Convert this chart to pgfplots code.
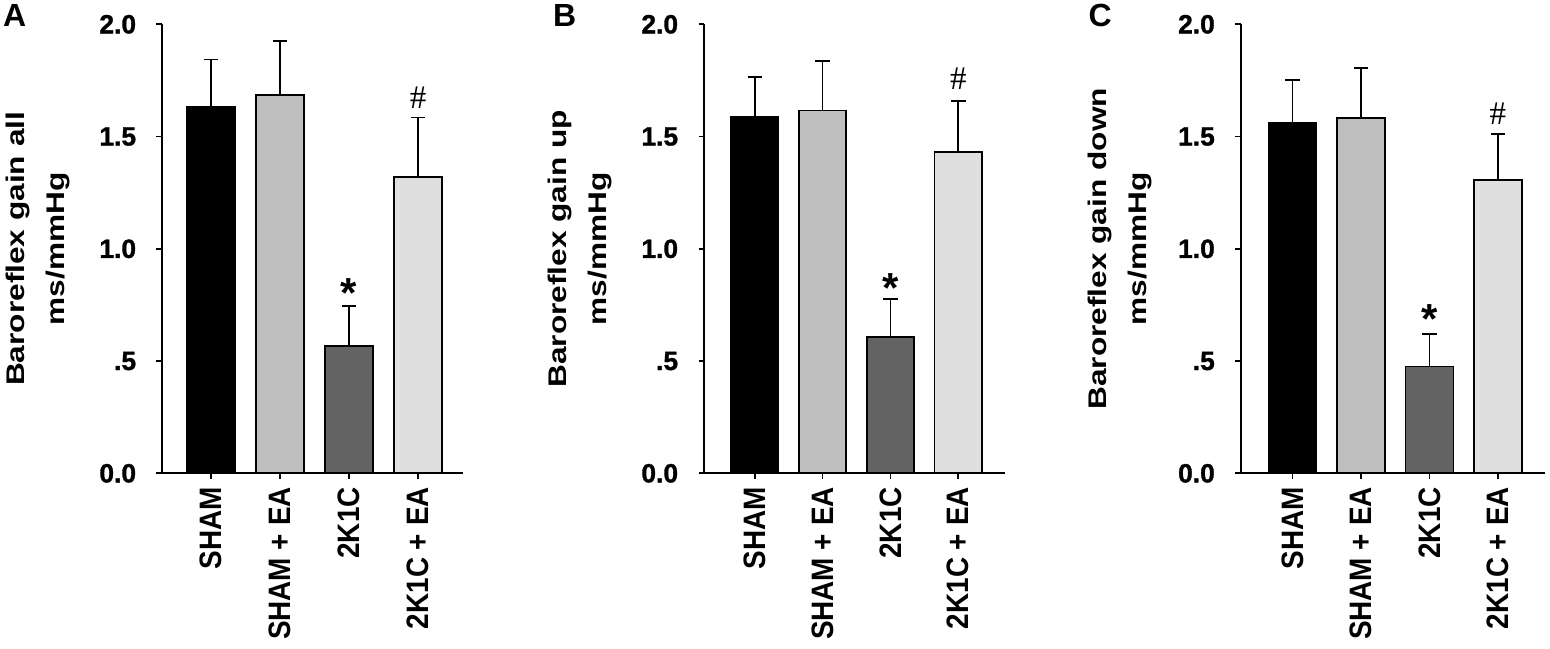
\documentclass[border=0pt]{standalone}
\usepackage{pgfplots}
\pgfplotsset{compat=1.18}
\usepackage{fontspec}
\setmainfont{Liberation Sans}
\newfontfamily\ylabfont{Liberation Sans}[FakeStretch=1.24]
\newfontfamily\catfont{Liberation Sans}[FakeStretch=0.9]
\newfontfamily\tickfont{Liberation Sans}[BoldFeatures={FakeBold=1.2}]
\newfontfamily\hashfont{Liberation Serif}
\definecolor{gA}{gray}{0.0}
\definecolor{gB}{gray}{0.75}
\definecolor{gC}{gray}{0.39}
\definecolor{gD}{gray}{0.875}
\pgfplotsset{
  panel/.style={
    scale only axis, width=150.5pt, height=224.5pt,
    ymin=0, ymax=2,
    ytick={0,0.5,1,1.5,2}, yticklabels={0.0,.5,1.0,1.5,2.0},
    xtick={0,1,2,3}, xticklabels={SHAM,SHAM + EA,2K1C,2K1C + EA},
    axis x line*=bottom, axis y line*=left,
    tick align=outside, major tick length=2.75pt,
    tick style={black, line width=0.9pt},
    axis line style={line width=0.9pt},
    /pgf/number format/assume math mode=true,
    yticklabel style={font=\tickfont\fontsize{13.2}{15}\selectfont\bfseries, anchor=east, inner sep=0pt},
    yticklabel shift=10pt,
    xticklabel style={font=\catfont\fontsize{15.5}{17}\selectfont\bfseries, rotate=90, anchor=east, inner sep=0pt},
    xticklabel shift=4pt,
    ylabel style={font=\ylabfont\fontsize{12.75}{20}\selectfont\bfseries, align=center, anchor=center},
    clip=false,
  },
  bb/.style={ybar, bar width=0.7, bar shift=0pt, draw=black, line width=0.9pt, fill=#1,
    error bars/.cd, y dir=plus, y explicit, error mark=|,
    error bar style={line width=0.9pt, black, solid},
    error mark options={line width=0.9pt, mark size=3.6pt, black}},
}
\tikzset{
  sigstar/.style={anchor=base, inner sep=0pt, font=\fontsize{21}{21}\selectfont\bfseries},
  sighash/.style={anchor=south, inner sep=0pt, font=\hashfont\fontsize{16.5}{16.5}\selectfont},
  panelletter/.style={anchor=north west, inner sep=0pt, font=\fontsize{16}{16}\selectfont\bfseries},
}
\begin{document}
\begin{tikzpicture}
\useasboundingbox (0,0) rectangle (775pt,324pt);
% ---------------- A
\begin{axis}[panel, at={(81pt,87.35pt)}, anchor=south west,
  xmin=-0.709, xmax=3.651,
  ylabel={Baroreflex gain all\\ms/mmHg},
  ylabel style={at={(axis description cs:-0.411,0.5)}}]
\addplot[bb=gA] coordinates {(0,1.631) +- (0,0.212)};
\addplot[bb=gB] coordinates {(1,1.684) +- (0,0.241)};
\addplot[bb=gC] coordinates {(2,0.567) +- (0,0.178)};
\addplot[bb=gD] coordinates {(3,1.321) +- (0,0.264)};
\node[sigstar, yshift=-0.5pt] at (axis cs:2,0.745) {*};
\node[sighash, yshift=4.5pt] at (axis cs:3,1.585) {\#};
\node[panelletter] at (axis description cs:-0.529,1.045) {A};
\end{axis}
% ---------------- B
\begin{axis}[panel, at={(352pt,87.35pt)}, anchor=south west,
  xmin=-0.747, xmax=3.688,
  ylabel={Baroreflex gain up\\ms/mmHg},
  ylabel style={at={(axis description cs:-0.412,0.5)}}]
\addplot[bb=gA] coordinates {(0,1.588) +- (0,0.177)};
\addplot[bb=gB] coordinates {(1,1.616) +- (0,0.221)};
\addplot[bb=gC] coordinates {(2,0.607) +- (0,0.171)};
\addplot[bb=gD] coordinates {(3,1.431) +- (0,0.229)};
\node[sigstar, yshift=-2pt] at (axis cs:2,0.778) {*};
\node[sighash, yshift=5.5pt] at (axis cs:3,1.660) {\#};
\node[panelletter] at (axis description cs:-0.503,1.045) {B};
\end{axis}
% ---------------- C
\begin{axis}[panel, at={(620.35pt,87.35pt)}, anchor=south west, width=152pt,
  xmin=-0.756, xmax=3.683,
  ylabel={Baroreflex gain down\\ms/mmHg},
  ylabel style={at={(axis description cs:-0.397,0.5)}}]
\addplot[bb=gA] coordinates {(0,1.561) +- (0,0.190)};
\addplot[bb=gB] coordinates {(1,1.581) +- (0,0.225)};
\addplot[bb=gC] coordinates {(2,0.476) +- (0,0.144)};
\addplot[bb=gD] coordinates {(3,1.305) +- (0,0.206)};
\node[sigstar, yshift=0.2pt] at (axis cs:2,0.620) {*};
\node[sighash, yshift=4.75pt] at (axis cs:3,1.511) {\#};
\node[panelletter] at (axis description cs:-0.502,1.045) {C};
\end{axis}
\end{tikzpicture}
\end{document}
